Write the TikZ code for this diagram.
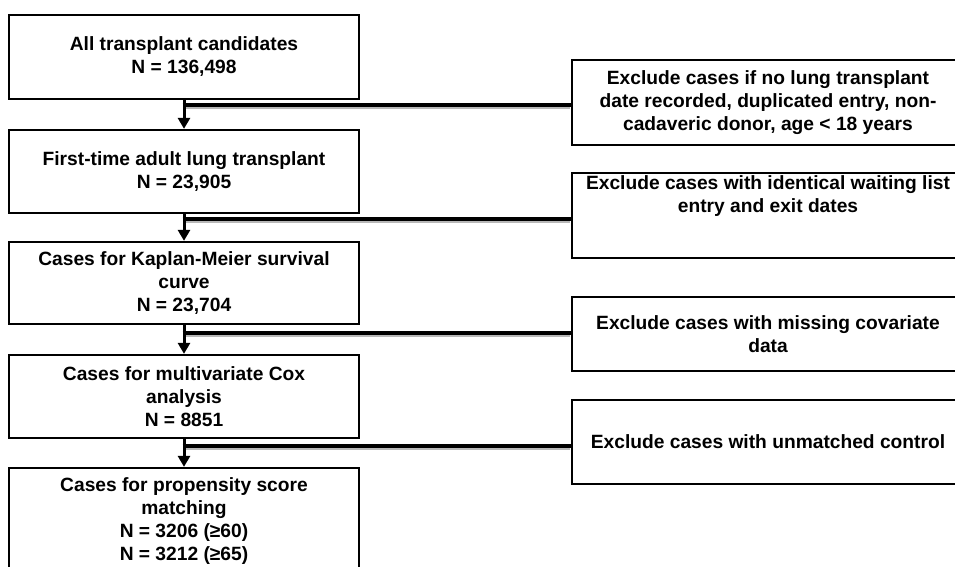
\documentclass[tikz,border=0pt]{standalone}
\usepackage{fontspec}
\setmainfont{Liberation Sans}
\usetikzlibrary{arrows.meta,calc}
\begin{document}
\begin{tikzpicture}[x=1pt,y=-1pt,
  every node/.style={font=\fontsize{19.2}{23}\selectfont\bfseries},
  lbox/.style={draw=black, line width=2.3pt, minimum width=350pt, inner sep=0pt, align=center, fill=white},
  rbox/.style={draw=black, line width=2.3pt, minimum width=392pt, inner sep=0pt, align=center, fill=white},
  txt/.style={inner sep=0pt, align=center},
  conn/.style={line width=3.6pt, line cap=butt},
  shade/.style={line width=2.4pt, draw=black!28},
  arr/.style={line width=3pt, -{Triangle[length=11pt,width=12pt]}}]
\useasboundingbox (0,0) rectangle (955,567);
\clip (0,0) rectangle (955,567);
\fill[white] (0,0) rectangle (955,567);

% left boxes
\node[lbox, minimum height=84pt] (b1) at (184,57) {All transplant candidates\\N = 136,498};
\node[lbox, minimum height=83pt] (b2) at (184,171.5) {First-time adult lung transplant\\N = 23,905};
\node[lbox, minimum height=82pt] (b3) at (184,283) {Cases for Kaplan-Meier survival\\curve\\N = 23,704};
\node[lbox, minimum height=83pt] (b4) at (184,396.5) {Cases for multivariate Cox\\analysis\\N = 8851};
\node[lbox, minimum height=106pt] (b5) at (184,521) {Cases for propensity score\\matching\\N = 3206 (≥60)\\N = 3212 (≥65)};

% right boxes
\node[rbox, minimum height=85pt] (e1) at (768,102.5) {Exclude cases if no lung transplant\\date recorded, duplicated entry, non-\\cadaveric donor, age < 18 years};
\node[rbox, minimum height=85pt] (e2) at (768,215.5) {};
\node[txt] (e2t) at (768,196) {Exclude cases with identical waiting list\\entry and exit dates};
\node[rbox, minimum height=74pt] (e3) at (768,334) {Exclude cases with missing covariate\\data};
\node[rbox, minimum height=84pt] (e4) at (768,442) {Exclude cases with unmatched control};

% junctions
\coordinate (j1) at (184,105);
\coordinate (j2) at (184,219);
\coordinate (j3) at (184,333);
\coordinate (j4) at (184,446);

% shadows
\foreach \j/\e in {j1/e1,j2/e2,j3/e3,j4/e4}{
  \draw[shade] ($(\j)+(2,2.8)$) -- ($(\j -| \e.west)+(-1,2.8)$);
}
% horizontal connectors
\foreach \j/\e in {j1/e1,j2/e2,j3/e3,j4/e4}{
  \draw[conn] ($(\j)+(-1.5,0)$) -- (\j -| \e.west);
}
% vertical arrows
\draw[arr] (b1.south) -- (b2.north);
\draw[arr] (b2.south) -- (b3.north);
\draw[arr] (b3.south) -- (b4.north);
\draw[arr] (b4.south) -- (b5.north);
\end{tikzpicture}
\end{document}
